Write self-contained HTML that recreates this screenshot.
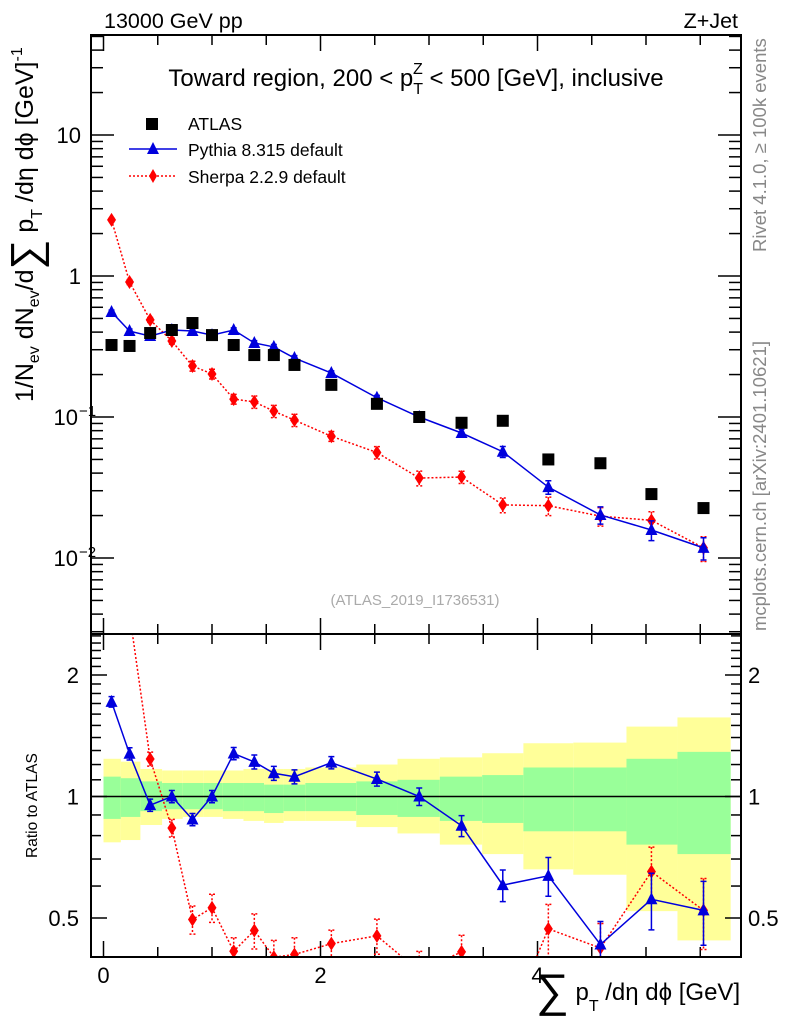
<!DOCTYPE html>
<html><head><meta charset="utf-8"><style>
body{margin:0;background:#fff;}
svg{display:block;font-family:"Liberation Sans",sans-serif;}
</style></head><body>
<svg id="c" width="786" height="1024" viewBox="0 0 786 1024" xmlns="http://www.w3.org/2000/svg">
<defs>
<clipPath id="cm"><rect x="91" y="35" width="650" height="599"/></clipPath>
<clipPath id="cr"><rect x="91" y="634" width="650" height="323"/></clipPath>
</defs>
<g id="bands" clip-path="url(#cr)"></g>
<g id="grid"></g>
<g id="main" clip-path="url(#cm)"></g>
<g id="ratio" clip-path="url(#cr)"></g>
<rect x="91" y="35" width="650" height="599" fill="none" stroke="#000" stroke-width="2"/>
<rect x="91" y="634" width="650" height="323" fill="none" stroke="#000" stroke-width="2"/>
<text x="104" y="28" font-size="21.5">13000 GeV pp</text>
<text x="738" y="28" font-size="21.5" text-anchor="end">Z+Jet</text>
<text x="416" y="86" font-size="24" text-anchor="middle">Toward region, 200 &lt; p<tspan font-size="16" dy="8">T</tspan><tspan font-size="16" dx="-10" dy="-20">Z</tspan><tspan dy="12"> &lt; 500 [GeV], inclusive</tspan></text>
<g>
<rect x="146" y="118" width="12" height="12" fill="#000"/>
<text x="188" y="130" font-size="17.5">ATLAS</text>
<line x1="129" y1="149" x2="177" y2="149" stroke="#0000dd" stroke-width="1.5"/>
<polygon points="153,142 147,154 159,154" fill="#0000dd"/>
<text x="188" y="156" font-size="17.5">Pythia 8.315 default</text>
<line x1="129" y1="176" x2="177" y2="176" stroke="#f00" stroke-width="1.5" stroke-dasharray="2,2"/>
<polygon points="153,169 157,176 153,183 149,176" fill="#f00"/>
<text x="188" y="183" font-size="17.5">Sherpa 2.2.9 default</text>
</g>
<text x="415" y="605" font-size="15" fill="#aaa" text-anchor="middle">(ATLAS_2019_I1736531)</text>
<text transform="translate(766,252) rotate(-90)" font-size="18.5" fill="#888">Rivet 4.1.0, ≥ 100k events</text>
<text transform="translate(766,631) rotate(-90)" font-size="18.5" fill="#888">mcplots.cern.ch [arXiv:2401.10621]</text>
<text transform="translate(33,402) rotate(-90)" font-size="25">1/N<tspan font-size="16" dy="6">ev</tspan><tspan dy="-6"> dN</tspan><tspan font-size="16" dy="6">ev</tspan><tspan dy="-6">/d</tspan><tspan font-size="42" dy="7">∑</tspan><tspan dy="-7"> p</tspan><tspan font-size="16" dy="9">T</tspan><tspan dy="-9"> /dη dϕ  [GeV]</tspan><tspan font-size="16" dy="-11">-1</tspan></text>
<text transform="translate(37,858) rotate(-90)" font-size="15.5">Ratio to ATLAS</text>
<text x="536" y="1000" font-size="24"><tspan font-size="46" dy="6">∑</tspan><tspan dy="-6"> p</tspan><tspan font-size="16" dy="11">T</tspan><tspan dy="-11"> /dη dϕ [GeV]</tspan></text>
</svg>
<script>
const binEdges=[0,0.16,0.34,0.54,0.73,0.92,1.1,1.29,1.48,1.66,1.86,2.33,2.71,3.1,3.49,3.87,4.33,4.82,5.29,5.78];
const xPts=[0.074,0.24,0.43,0.63,0.82,1.0,1.2,1.39,1.57,1.76,2.1,2.52,2.91,3.3,3.68,4.1,4.58,5.05,5.53];
const atlas=[0.324,0.319,0.394,0.414,0.464,0.381,0.324,0.275,0.275,0.234,0.169,0.124,0.100,0.091,0.094,0.050,0.047,0.0284,0.0226];
const pythia=[0.556,0.407,0.375,0.414,0.407,0.381,0.414,0.335,0.314,0.262,0.205,0.137,0.100,0.077,0.0567,0.0318,0.0202,0.0158,0.0118];
const pythiaErr=[0.03,0.035,0.035,0.035,0.035,0.035,0.035,0.04,0.04,0.04,0.035,0.04,0.05,0.06,0.09,0.11,0.14,0.16,0.18];
const sherpa=[2.5,0.906,0.488,0.346,0.23,0.202,0.134,0.128,0.110,0.095,0.073,0.056,0.0369,0.0375,0.0238,0.0235,0.0198,0.0185,0.0118];
const sherpaErr=[0.03,0.04,0.04,0.05,0.08,0.08,0.08,0.1,0.1,0.1,0.08,0.1,0.12,0.1,0.12,0.15,0.15,0.15,0.2];
const yellowUp=[1.24,1.22,1.17,1.16,1.16,1.16,1.16,1.17,1.17,1.17,1.18,1.20,1.24,1.25,1.28,1.355,1.36,1.49,1.57];
const yellowDn=[0.77,0.78,0.85,0.88,0.89,0.89,0.88,0.87,0.86,0.87,0.87,0.84,0.81,0.76,0.72,0.66,0.64,0.52,0.44];
const greenUp=[1.12,1.11,1.09,1.08,1.08,1.08,1.08,1.08,1.07,1.07,1.08,1.09,1.10,1.12,1.13,1.18,1.18,1.24,1.29];
const greenDn=[0.88,0.89,0.92,0.93,0.93,0.93,0.92,0.92,0.91,0.92,0.92,0.90,0.89,0.87,0.86,0.82,0.82,0.76,0.72];
const xTicks=[0,2,4];
const NS='http://www.w3.org/2000/svg';
const X=v=>103.5+v*108.5;
const Y=v=>276-Math.log10(v)*141;
const R=v=>796.5-Math.log2(v)*121.5;
function mk(p,t,a){const e=document.createElementNS(NS,t);for(const k in a)e.setAttribute(k,a[k]);p.appendChild(e);return e;}
const bands=document.getElementById('bands'),grid=document.getElementById('grid'),main=document.getElementById('main'),ratio=document.getElementById('ratio');
for(let i=0;i<binEdges.length-1;i++){
 const x0=X(binEdges[i]),x1=X(binEdges[i+1]);
 let r=mk(bands,'rect',{x:x0,y:R(yellowUp[i]),width:x1-x0,height:R(yellowDn[i])-R(yellowUp[i]),fill:'#ffff99'});
 
 
 r=mk(bands,'rect',{x:x0,y:R(greenUp[i]),width:x1-x0,height:R(greenDn[i])-R(greenUp[i]),fill:'#99ff99'});
 
 
}
let l=mk(grid,'line',{x1:91,x2:741,y1:R(1),y2:R(1),stroke:'#000','stroke-width':1.5});


for(let v=0;v<=5.5;v+=0.5){
 const maj=xTicks.includes(v),len=maj?16:10,x=X(v);
 for(const [y0,d] of [[634,-1],[35,1],[957,-1],[634,1]]) mk(grid,'line',{x1:x,x2:x,y1:y0,y2:y0+d*len,stroke:'#000','stroke-width':1.5});
}
xTicks.forEach(v=>{const t=mk(grid,'text',{x:X(v),y:983,'font-size':22,'text-anchor':'middle'});t.textContent=v;
 
 });
for(let d=-3;d<=1;d++)for(let m=1;m<10;m++){const v=m*Math.pow(10,d),y=Y(v);if(y<35||y>634)continue;
 const len=m==1?23:12;mk(grid,'line',{x1:91,x2:91+len,y1:y,y2:y,stroke:'#000','stroke-width':1.5});mk(grid,'line',{x1:741,x2:741-len,y1:y,y2:y,stroke:'#000','stroke-width':1.5});}
[[10,'10',''],[1,'1',''],[0.1,'10','−1'],[0.01,'10','−2']].forEach(([v,b,e])=>{
 const t=mk(grid,'text',{x:e?78:81,y:Y(v)+8,'font-size':22,'text-anchor':'end'});t.textContent=b;
 
 
 if(e){const s=mk(grid,'text',{x:79,y:Y(v)-1,'font-size':15});s.textContent=e;}});
const rt=[0.4,0.5,0.6,0.7,0.8,0.9,1,1.1,1.2,1.3,1.4,1.5,1.6,1.7,1.8,1.9,2,2.1,2.2,2.3,2.4,2.5];
rt.forEach(v=>{const y=R(v);if(y<634||y>957)return;const len=[0.5,1,2].includes(v)?16:10;
 mk(grid,'line',{x1:91,x2:91+len,y1:y,y2:y,stroke:'#000','stroke-width':1.5});mk(grid,'line',{x1:741,x2:741-len,y1:y,y2:y,stroke:'#000','stroke-width':1.5});});
[[2,'2'],[1,'1'],[0.5,'0.5']].forEach(([v,s])=>{
 let t=mk(grid,'text',{x:79,y:R(v)+8,'font-size':22,'text-anchor':'end'});t.textContent=s;
 
 
 t=mk(grid,'text',{x:748,y:R(v)+8,'font-size':22});t.textContent=s;
 
 });
function series(g,Yf,vals,errs,color,dash,marker,name){
 const pts=vals.map((v,i)=>X(xPts[i])+','+Yf(v)).join(' ');
 const pl=mk(g,'polyline',{points:pts,fill:'none',stroke:color,'stroke-width':1.5});
 if(dash)pl.setAttribute('stroke-dasharray','2,2');
 
 
 vals.forEach((v,i)=>{const x=X(xPts[i]),y=Yf(v);
  if(errs){const y1=Yf(v*(1+errs[i])),y2=Yf(v*(1-errs[i]));
   const e=mk(g,'path',{d:`M${x},${y1}V${y2}M${x-3},${y1}H${x+3}M${x-3},${y2}H${x+3}`,stroke:color,'stroke-width':1.5,fill:'none'});
   if(dash)e.setAttribute('stroke-dasharray','2,2');
   
   }
  let m;
  if(marker=='sq')m=mk(g,'rect',{x:x-6,y:y-6,width:12,height:12,fill:color});
  else if(marker=='tri')m=mk(g,'polygon',{points:`${x},${y-7} ${x-6},${y+5} ${x+6},${y+5}`,fill:color});
  else m=mk(g,'polygon',{points:`${x},${y-7} ${x+4.5},${y} ${x},${y+7} ${x-4.5},${y}`,fill:color});
  
  });
}
series(main,Y,sherpa,sherpaErr,'#f00',true,'dia','sherpa');
series(main,Y,pythia,pythiaErr,'#0000dd',false,'tri','pythia');
const aG=mk(main,'g',{});
atlas.forEach((v,i)=>{const m=mk(aG,'rect',{x:X(xPts[i])-6,y:Y(v)-6,width:12,height:12,fill:'#000'});
 
 });
series(ratio,R,sherpa.map((v,i)=>v/atlas[i]),sherpaErr,'#f00',true,'dia','sherpa-ratio');
series(ratio,R,pythia.map((v,i)=>v/atlas[i]),pythiaErr,'#0000dd',false,'tri','pythia-ratio');
</script>
</body></html>
